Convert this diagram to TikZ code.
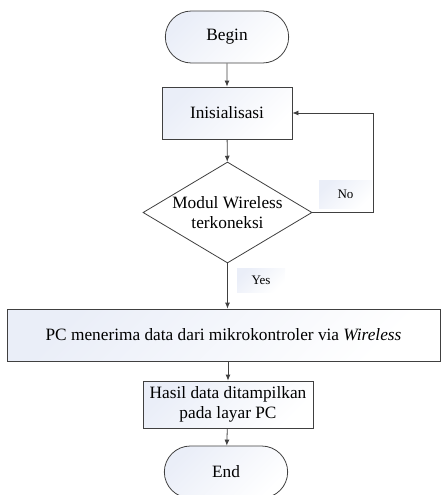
\documentclass[tikz,border=0pt]{standalone}
\usepackage{fontspec}
\setmainfont{Liberation Serif}
\usetikzlibrary{shapes.misc,shapes.geometric,arrows.meta}
\definecolor{nodefill}{RGB}{234,238,248}
\definecolor{linegray}{RGB}{64,64,64}
\begin{document}
\begin{tikzpicture}[x=1pt, y=-1pt, line width=0.8pt, draw=linegray,
    >={Latex[length=6pt,width=5pt]},
    every node/.style={font=\fontsize{17.3}{20}\selectfont},
    shaded/.style={top color=nodefill, bottom color=white, shading angle=45},
    terminal/.style={rounded rectangle, draw=linegray, shaded, minimum width=130pt, minimum height=52pt},
    process/.style={rectangle, draw=linegray, shaded, align=center},
    decision/.style={diamond, draw=linegray, fill=white, align=center, aspect=1.67, inner sep=0pt, minimum width=169pt, minimum height=101pt},
    tag/.style={shaded, font=\fontsize{13}{15}\selectfont}]
    \useasboundingbox (0,0) rectangle (441,495);
    % Start and setup
    \node[terminal] (begin) at (227,37) {Begin};
    \node[process, minimum width=130pt, minimum height=52pt] (init) at (227,113) {Inisialisasi};
    % Connection check
    \node[decision] (conn) at (227.5,212.5) {Modul Wireless\\terkoneksi};
    \node[tag, minimum width=53pt, minimum height=28pt] (no) at (345.5,194) {No};
    \node[tag, minimum width=48pt, minimum height=24pt] (yes) at (261,280) {Yes};
    % Receive and show data
    \node[process, minimum width=433pt, minimum height=52pt] (pc) at (223.5,335) {PC menerima data dari mikrokontroler via \textit{Wireless}};
    \node[process, minimum width=170pt, minimum height=47pt] (hasil) at (228,404.5) {Hasil data ditampilkan\\pada layar PC};
    \node[terminal] (end) at (226,472) {End};
    \coordinate (loop) at (373,212.5);
    % Connectors
    \draw[->] (begin) -- (init);
    \draw[->] (init) -- (conn);
    \draw[->] (loop -| conn.east) -- (loop) |- (init.east);
    \draw[->] (conn.south) -- (conn.south |- pc.north);
    \draw[->] (hasil.north |- pc.south) -- (hasil.north);
    \draw[->] (hasil) -- (end);
\end{tikzpicture}
\end{document}
